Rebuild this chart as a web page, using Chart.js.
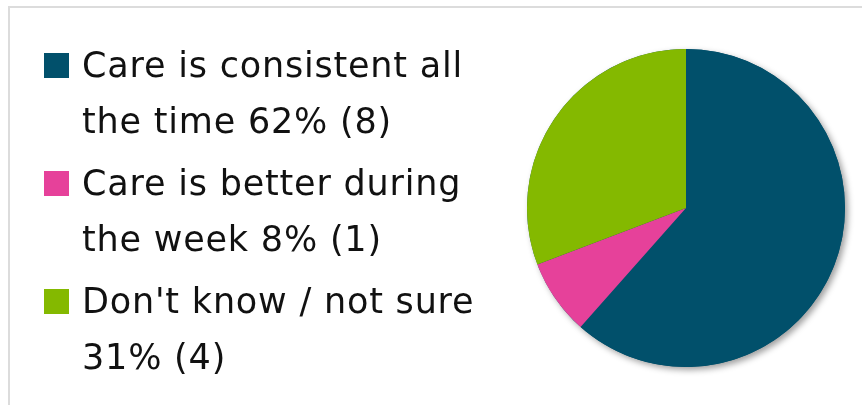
<!DOCTYPE html>
<html>
<head>
<meta charset="utf-8">
<script src="https://cdn.jsdelivr.net/npm/chart.js@4.4.1/dist/chart.umd.min.js"></script>
<style>
  html, body { margin: 0; padding: 0; background: #ffffff; overflow: hidden; }
  #frame {
    position: absolute; left: 8px; top: 6px; width: 920px; height: 460px;
    border-top: 2px solid #dcdcdc; border-left: 2px solid #dcdcdc;
  }
  #wrap { position: absolute; left: 0; top: 0; width: 862px; height: 405px; }
</style>
</head>
<body>
<div id="frame"></div>
<div id="wrap"><canvas id="chart"></canvas></div>
<script>
// Survey answers (wrapped onto two lines in the legend) and response counts
const categories = [
  ['Care is consistent all', 'the time'],
  ['Care is better during', 'the week'],
  ["Don't know / not sure", '']
];
const counts = [8, 1, 4];
const sliceColors = ['#01506b', '#e6419a', '#84b900'];

const total = counts.reduce((a, b) => a + b, 0);
const legendLines = categories.map((parts, i) => {
  const pct = Math.round(counts[i] / total * 100) + '% (' + counts[i] + ')';
  const last = (parts[1] + ' ' + pct).trim();
  return [parts[0], last];
});

// Soft drop shadow behind the whole pie
const pieShadow = {
  id: 'pieShadow',
  beforeDatasetsDraw(chart) {
    const arc = chart.getDatasetMeta(0).data[0];
    if (!arc) return;
    const ctx = chart.ctx;
    ctx.save();
    ctx.shadowColor = 'rgba(0,0,0,0.38)';
    ctx.shadowBlur = 6;
    ctx.shadowOffsetX = 3;
    ctx.shadowOffsetY = 3;
    ctx.beginPath();
    ctx.arc(arc.x, arc.y, arc.outerRadius, 0, Math.PI * 2);
    ctx.fillStyle = sliceColors[0];
    ctx.fill();
    ctx.restore();
  }
};

// Large wrapped legend on the left
const sideLegend = {
  id: 'sideLegend',
  afterDraw(chart) {
    const ctx = chart.ctx;
    const ds = chart.data.datasets[0];
    ctx.save();
    ctx.font = '35px "DejaVu Sans", sans-serif';
    ctx.letterSpacing = '0.8px';
    ctx.textBaseline = 'alphabetic';
    ctx.textAlign = 'left';
    chart.data.labels.forEach((lines, i) => {
      const base = 77 + i * 118;
      ctx.fillStyle = ds.backgroundColor[i];
      ctx.fillRect(44, base - 24, 25, 25);
      ctx.fillStyle = '#111111';
      lines.forEach((t, j) => ctx.fillText(t, 82, base + j * 56));
    });
    ctx.restore();
  }
};

new Chart(document.getElementById('chart'), {
  type: 'pie',
  data: {
    labels: legendLines,
    datasets: [{
      data: counts,
      backgroundColor: sliceColors,
      borderWidth: 0,
      hoverOffset: 0
    }]
  },
  options: {
    responsive: true,
    maintainAspectRatio: false,
    animation: false,
    layout: { padding: { left: 527, right: 17, top: 49, bottom: 38 } },
    plugins: {
      legend: { display: false },
      tooltip: { enabled: false }
    }
  },
  plugins: [pieShadow, sideLegend]
});
</script>
</body>
</html>
